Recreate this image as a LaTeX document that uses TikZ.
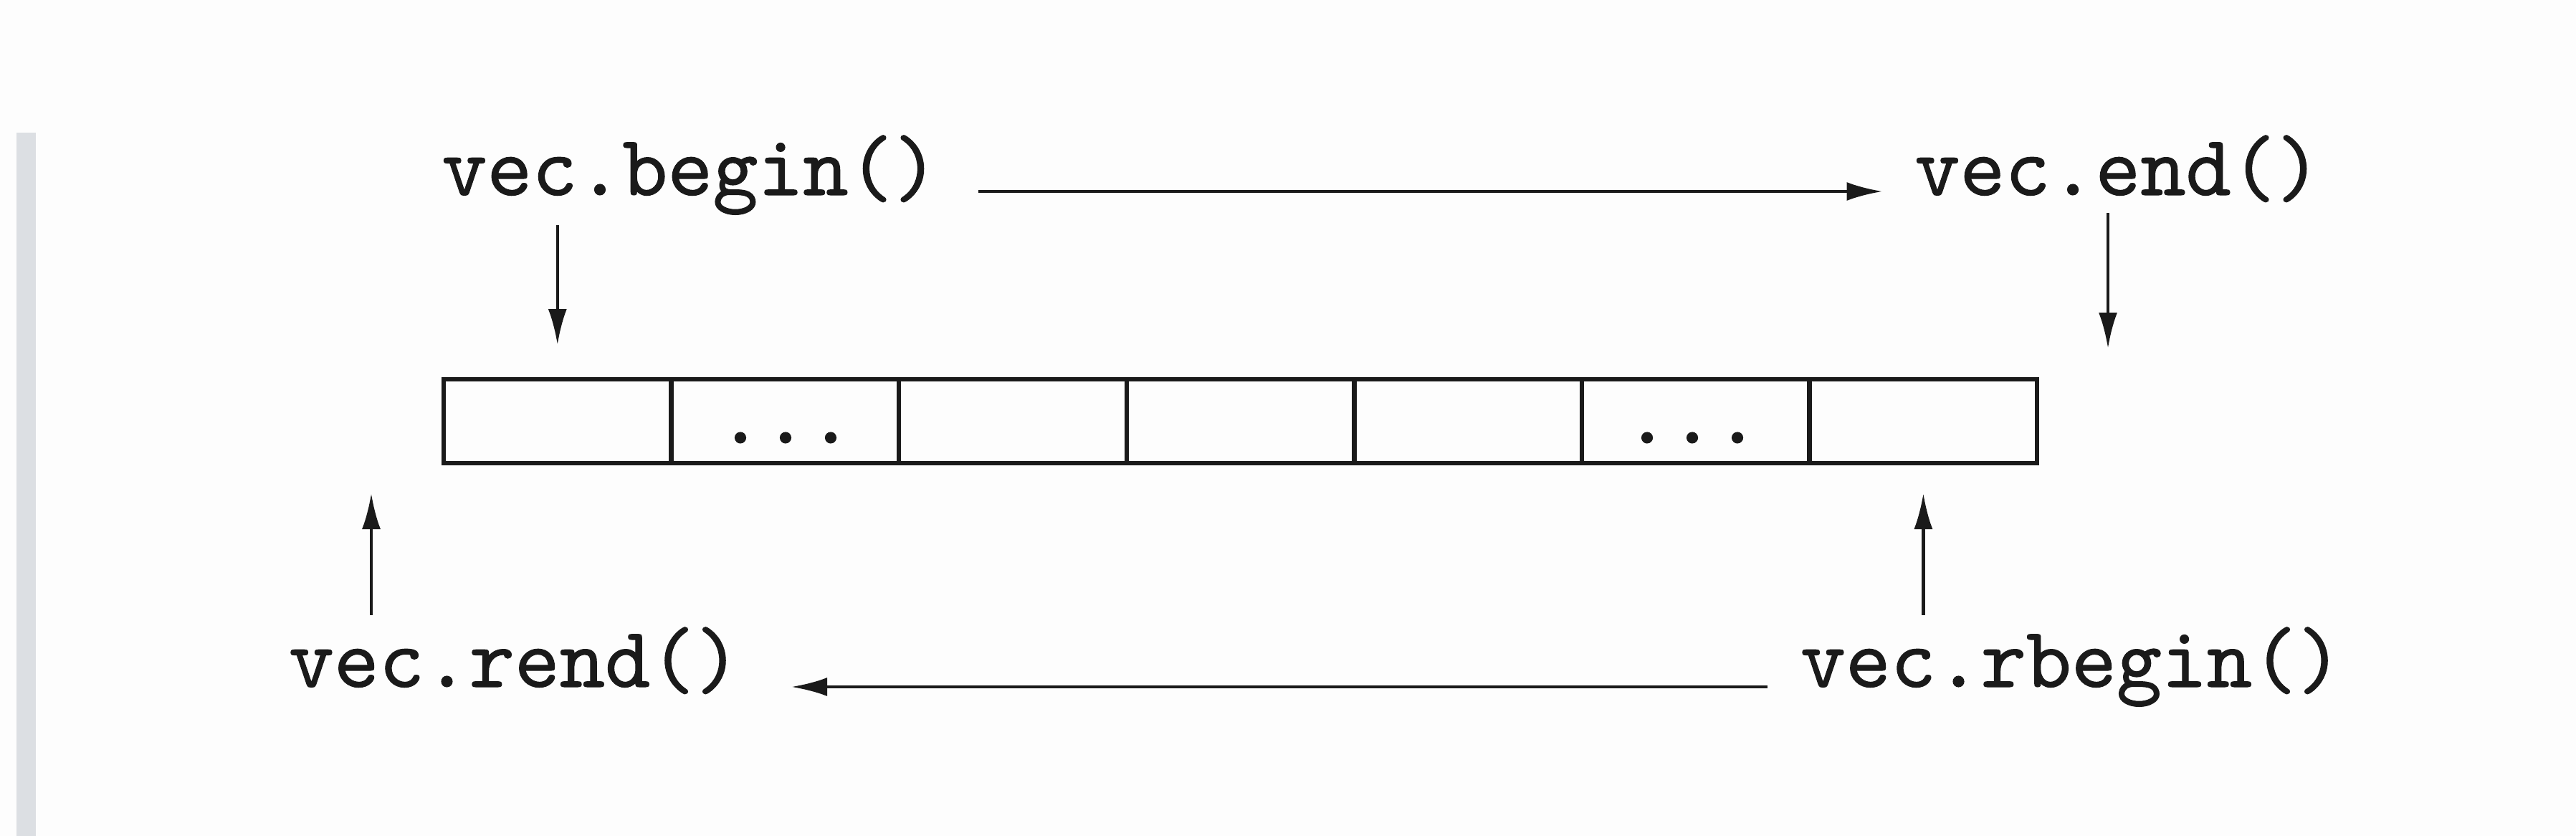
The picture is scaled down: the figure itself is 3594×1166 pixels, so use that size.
\documentclass[tikz,border=0pt]{standalone}
\usepackage{fontspec}
\usetikzlibrary{arrows.meta}
\newfontfamily\codefont{lmmono10-regular.otf}[FakeBold=0.9]
\definecolor{bg}{HTML}{FDFDFD}
\definecolor{barc}{HTML}{DCDFE3}
\definecolor{ink}{HTML}{1A1A1A}
\begin{document}
\begin{tikzpicture}[x=1pt,y=-1pt,
  lbl/.style={font=\fontsize{120}{124}\selectfont\codefont, text=ink, inner sep=0pt, outer sep=0pt, anchor=base},
  cell/.style={draw=ink, line width=6.5pt, minimum width=317.6pt, minimum height=117pt, inner sep=0pt, outer sep=0pt},
  arr/.style={draw=ink, line width=4.5pt, -{Latex[length=50pt,width=26pt]}}]
\useasboundingbox (0,0) rectangle (3594,1166);
\fill[bg] (0,0) rectangle (3594,1166);
\fill[barc] (23,185) rectangle (50,1166);
% array cells
\foreach \i in {1,...,7}{
  \node[cell] (c\i) at ({619+317.6*(\i-0.5)},587.5) {};
}
\node[lbl] (d2) at (1096,618) {...};
\node[lbl] (d6) at (2361,618) {...};
% labels
\node[lbl] (begin)  at (963,272)  {vec.begin()};
\node[lbl] (end)    at (2955,272) {vec.end()};
\node[lbl] (rend)   at (718,958)  {vec.rend()};
\node[lbl] (rbegin) at (2890,958) {vec.rbegin()};
\coordinate (pastend)  at (2941,486);
\coordinate (prebegin) at (518,688);
% connectors
\draw[arr] ([xshift=55pt,yshift=5pt]begin.base east) -- ([xshift=-45pt,yshift=5pt]end.base west);
\draw[arr, shorten <=15pt, shorten >=48pt] (begin.south -| c1.north) -- (c1.north);
\draw[arr, shorten <=15pt] (end.south -| pastend) -- (pastend);
\draw[arr, shorten <=17pt, shorten >=42pt] (rbegin.north -| c7.south) -- (c7.south);
\draw[arr, shorten <=17pt] (rend.north -| prebegin) -- (prebegin);
\draw[arr] ([xshift=-46pt]rbegin.base west) -- ([xshift=71pt]rend.base east);
\end{tikzpicture}
\end{document}
